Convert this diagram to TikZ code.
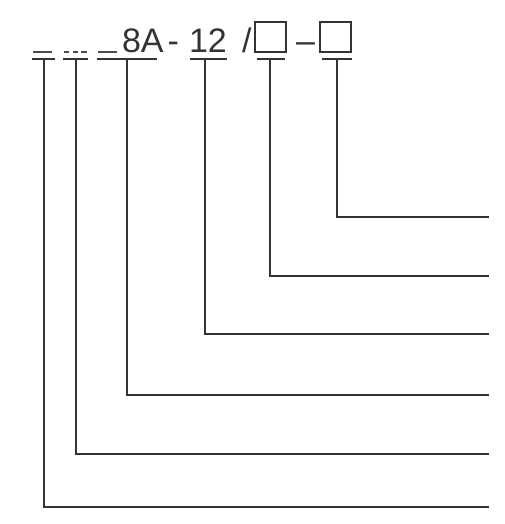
\documentclass[tikz,border=0pt]{standalone}
\usepackage{fontspec}
\setmainfont{Liberation Sans}
\usetikzlibrary{positioning}

\begin{document}
\begin{tikzpicture}[x=0.75pt, y=-0.75pt,
                    line width=1.6pt,
                    draw=black!80]
    \tikzstyle{code}=[inner sep=0pt, anchor=base west, text=black!80, font=\fontsize{25.5}{25.5}\selectfont]
    \tikzstyle{blank}=[draw=black!80, line width=1.4pt, minimum width=23.25pt, minimum height=22.5pt, inner sep=0pt, anchor=south west]
    \tikzstyle{bar}=[draw=black!80, line width=1.6pt]
    \tikzstyle{lead}=[bar]
    \tikzstyle{slot}=[draw=black!70, line width=1.1pt]

    \useasboundingbox (0,0) rectangle (504,524);

    % empty places of the code
    \draw[slot] (33,52) -- (52,52);
    \draw[slot, dash pattern=on 4pt off 2.5pt] (64,52) -- (88,52);
    \draw[slot] (98,52) -- (117,52);

    \node[code] (eight) at (121,53) {8A};
    \node[code] (hyph) at (166.5,53) {-};
    \node[code] (twelve) at (188,53) {12};
    \node[code] (slash) at (241,53) {/};
    \node[blank] (boxa) at (254,53) {};
    \node[code] (dash) at (295,53) {–};
    \node[blank] (boxb) at (319,53) {};

    % bars and leads
    \foreach \l/\r/\m/\y [count=\i] in {32/55/44/507, 63/88/76/454, 97/157/127/395,
                                        190/227/205/334, 257/285/270/276, 322/352/337/217} {
        \coordinate (b\i) at (\m,59);
        \coordinate (e\i) at (489,\y);
        \draw[bar] (\l,59) -- (\r,59);
        \draw[lead] (b\i) |- (e\i);
    }
\end{tikzpicture}
\end{document}
